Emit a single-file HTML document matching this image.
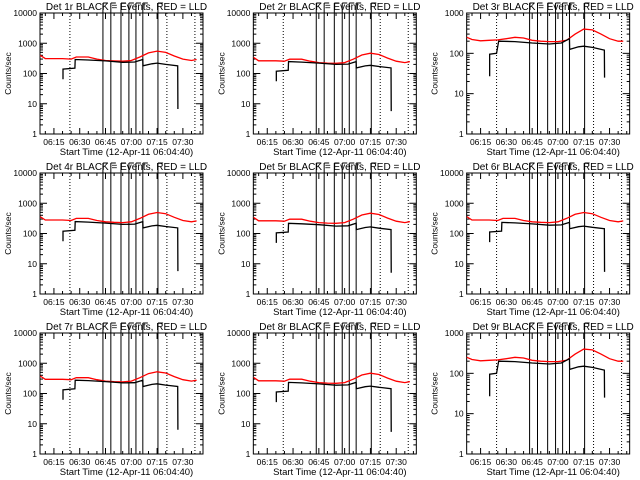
<!DOCTYPE html>
<html><head><meta charset="utf-8"><style>
body{margin:0;background:#fff}
svg{display:block}
text{font-family:"Liberation Sans",sans-serif;fill:#000}
</style></head><body>
<svg id="chart" width="640" height="480" viewBox="0 0 640 480"></svg>
<script>
const detectors = ["1r","2r","3r","4r","5r","6r","7r","8r","9r"];
const yMaxDecade = [4,4,3,4,4,4,4,4,3];
const redScale = [1,0.85,1,0.9,0.85,0.9,0.95,0.85,1];
const blackScale = [1,0.85,1,0.85,0.75,0.8,0.95,0.8,1];
const tickLabels = ["06:15","06:30","06:45","07:00","07:15","07:30"];
const tickMinutes = [15,30,45,60,75,90];
const eventSolid = [43.5,48.1,54,58.6,62.7,66.7,75.5];
const eventDotted = [24.3,80.7,97];
const redT_A = [7,10,20,25,28,35,40,45,50,55,60,65,70,75,80,85,90,95,98];
const redV_A = [400,310,310,300,350,350,300,270,260,255,270,350,480,550,500,380,300,270,290];
const blkT_A = [20.3,20.3,27.2,27.4,35,45,55,62,66.7,66.8,72,75,80,87,87.1];
const blkV_A = [65,140,150,290,280,260,235,240,290,180,210,220,200,180,6.7];
const redT_B = [7,10,15,20,25,30,35,40,45,50,55,60,65,70,75,80,85,90,95,98];
const redV_B = [250,220,205,210,215,230,250,240,210,200,195,195,210,300,400,380,300,230,200,200];
const blkT_B = [20.3,20.3,24.3,25.5,35,45,55,62,66.7,66.8,72,75,80,87,87.1];
const blkV_B = [27,95,100,200,195,180,170,180,230,125,145,150,140,120,25];

const NS="http://www.w3.org/2000/svg";
const svg=document.getElementById('chart');
function mk(tag,attrs,parent){const e=document.createElementNS(NS,tag);for(const k in attrs)e.setAttribute(k,attrs[k]);(parent||svg).appendChild(e);return e;}
const BX0=40,BX1=203,BY0=13,BY1=134,TMIN=6.9,TMAX=101.7;

detectors.forEach((det,i)=>{
  const ox=(i%3)*213.33, oy=Math.floor(i/3)*160;
  const g=mk('g',{transform:`translate(${ox.toFixed(2)},${oy})`});
  
  
  const top=yMaxDecade[i];
  const xs=t=>BX0+(t-TMIN)/(TMAX-TMIN)*(BX1-BX0);
  const ys=v=>BY1-Math.log10(Math.max(v,1))/top*(BY1-BY0);
  const box=mk('rect',{x:BX0,y:BY0,width:BX1-BX0,height:BY1-BY0,fill:'none',stroke:'#000','stroke-width':1},g);
  
  
  for(let d=0;d<=top;d++){
    const y=ys(Math.pow(10,d));
    mk('line',{x1:BX0,x2:BX0+7,y1:y,y2:y,stroke:'#000'},g);
    mk('line',{x1:BX1,x2:BX1-7,y1:y,y2:y,stroke:'#000'},g);
    const lb=mk('text',{x:BX0-3,y:y+3,'font-size':8.5,'text-anchor':'end'},g);
    lb.textContent=String(Math.pow(10,d));
    
    
    if(d<top)for(let m=2;m<=9;m++){const ym=ys(m*Math.pow(10,d));
      mk('line',{x1:BX0,x2:BX0+3,y1:ym,y2:ym,stroke:'#000'},g);
      mk('line',{x1:BX1,x2:BX1-3,y1:ym,y2:ym,stroke:'#000'},g);}
  }
  for(let t=10;t<=100;t+=5){const x=xs(t);const maj=tickMinutes.includes(t);const L=maj?6:3;
    mk('line',{x1:x,x2:x,y1:BY1,y2:BY1-L,stroke:'#000'},g);
    mk('line',{x1:x,x2:x,y1:BY0,y2:BY0+L,stroke:'#000'},g);}
  tickMinutes.forEach((t,k)=>{const lb=mk('text',{x:xs(t),y:BY1+11,'font-size':8.5,'text-anchor':'middle'},g);
    lb.textContent=tickLabels[k];
    
    });
  eventSolid.forEach(t=>{const x=xs(t);
    const l=mk('line',{x1:x,x2:x,y1:3,y2:BY1,stroke:'#000','stroke-width':1},g);
    
    
    mk('line',{x1:x,x2:x+5,y1:3,y2:3,stroke:'#000'},g);});
  eventDotted.forEach(t=>{const x=xs(t);
    const l=mk('line',{x1:x,x2:x,y1:BY0,y2:BY1,stroke:'#000','stroke-dasharray':'1,2'},g);
    
    });
  const B=(top===3);
  const rT=B?redT_B:redT_A, rV=B?redV_B:redV_A, bT=B?blkT_B:blkT_A, bV=B?blkV_B:blkV_A;
  const rp=rT.map((t,k)=>xs(t).toFixed(1)+','+ys(rV[k]*redScale[i]).toFixed(1)).join(' ');
  const red=mk('polyline',{points:rp,fill:'none',stroke:'#ff0000','stroke-width':1.3},g);
  
  
  const bp=bT.map((t,k)=>xs(t).toFixed(1)+','+ys(bV[k]*blackScale[i]).toFixed(1)).join(' ');
  const blk=mk('polyline',{points:bp,fill:'none',stroke:'#000','stroke-width':1.3},g);
  
  
  const tt=mk('text',{x:(BX0+BX1)/2+5,y:10,'font-size':10,'text-anchor':'middle'},g);
  tt.textContent='Det '+det+' BLACK = Events, RED = LLD';
  
  
  const xt=mk('text',{x:(BX0+BX1)/2+5,y:BY1+21,'font-size':9.5,'text-anchor':'middle'},g);
  xt.textContent='Start Time (12-Apr-11 06:04:40)';
  
  
  const yt=mk('text',{x:0,y:0,'font-size':8.5,'text-anchor':'middle',transform:`translate(11,${(BY0+BY1)/2}) rotate(-90)`},g);
  yt.textContent='Counts/sec';
  
  
});
</script>
</body></html>
